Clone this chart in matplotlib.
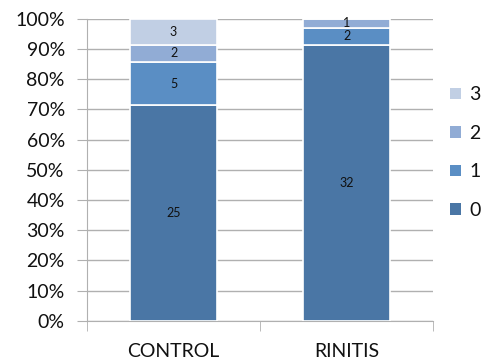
import matplotlib
matplotlib.use("Agg")
import numpy as np
from matplotlib import pyplot as plt
from matplotlib.patches import Patch
from matplotlib.ticker import PercentFormatter

groups = ["CONTROL", "RINITIS"]
levels = ["0", "1", "2", "3"]
counts = {
    "0": [25, 32],
    "1": [5, 2],
    "2": [2, 1],
    "3": [3, 0],
}
colors = {"0": "#4a76a5", "1": "#5a8ec4", "2": "#91acd5", "3": "#c1cfe4"}

plt.rcParams['font.family'] = ['Lato', 'DejaVu Sans']

totals = np.sum([counts[k] for k in levels], axis=0)
x = np.arange(len(groups))

fig = plt.figure(figsize=(5.03, 3.63), dpi=100)
ax = fig.add_axes([0.173, 0.116, 0.688, 0.832])

bottom = np.zeros(len(groups))
for lv in levels:
    share = np.array(counts[lv]) / totals * 100
    ax.bar(x, share, 0.5, bottom=bottom, color=colors[lv],
           edgecolor="white", linewidth=1.2, zorder=3)
    for i in range(len(groups)):
        if counts[lv][i] > 0:
            ax.text(x[i], bottom[i] + share[i] / 2, str(counts[lv][i]),
                    ha="center", va="center", fontsize=9, color="#111111", zorder=4)
    bottom += share

ax.set_xlim(-0.5, 1.5)
ax.set_ylim(0, 100)
ax.set_yticks(np.arange(0, 101, 10))
ax.yaxis.set_major_formatter(PercentFormatter(decimals=0))
ax.set_xticks(x)
ax.set_xticklabels(groups)
ax.set_xticks([-0.5, 0.5, 1.5], minor=True)

ax.grid(axis="y", color="#b0b0b0", linewidth=1, zorder=0)
for side in ["top", "right"]:
    ax.spines[side].set_visible(False)
for side in ["left", "bottom"]:
    ax.spines[side].set_color("#b0b0b0")
ax.tick_params(axis="y", length=7, color="#b0b0b0", labelsize=14, pad=9,
               labelcolor="#111111")
ax.tick_params(axis="x", which="major", length=0, labelsize=14, pad=16,
               labelcolor="#111111")
ax.tick_params(axis="x", which="minor", length=7, color="#b0b0b0")

handles = [Patch(facecolor=colors[lv], edgecolor="none", label=lv) for lv in reversed(levels)]
fig.legend(handles=handles, loc="upper left", bbox_to_anchor=(0.86, 0.81),
           frameon=False, fontsize=14, handlelength=0.55, handleheight=0.55,
           handletextpad=0.45, labelspacing=1.1, labelcolor="#111111")

fig.savefig("out.png", dpi=100)
